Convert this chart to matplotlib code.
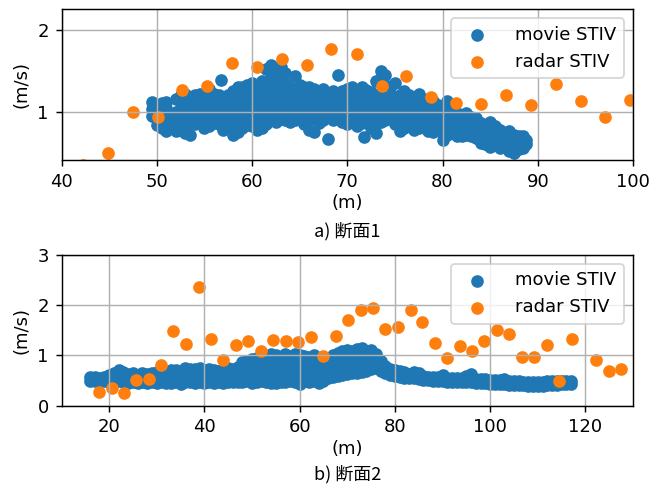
import matplotlib
matplotlib.use("Agg")
import matplotlib.pyplot as plt

# ---------------- data: section 1 ----------------
radar1_x = [42.3, 44.9, 47.5, 50.1, 52.7, 55.3, 57.9, 60.5, 63.2, 65.8, 68.3, 71.0,
            73.6, 76.2, 78.8, 81.4, 84.0, 86.7, 89.3, 91.9, 94.5, 97.1, 99.7]
radar1_y = [0.355, 0.50, 0.99, 0.93, 1.26, 1.31, 1.60, 1.55, 1.64, 1.57, 1.76, 1.71,
            1.31, 1.43, 1.18, 1.11, 1.09, 1.20, 1.08, 1.34, 1.13, 0.93, 1.14]

movie1_cols = [
    (49.5, [0.95, 1.03, 1.12]),
    (50.0, [0.84, 0.92, 1.00, 1.08]),
    (50.5, [0.80, 0.88, 0.98, 1.06, 1.10]),
    (51.0, [0.77, 0.86, 0.95, 1.04, 1.12]),
    (51.5, [0.80, 0.90, 0.97]),
    (52.0, [0.76, 0.84, 0.93, 1.00, 1.16]),
    (52.5, [0.78, 0.88, 0.95, 1.05, 1.20]),
    (53.0, [0.74, 0.82, 0.90, 1.00, 1.08, 1.22]),
    (53.5, [0.72, 0.86, 0.95, 1.06, 1.18]),
    (54.0, [0.85, 0.92, 1.00, 1.10, 1.20]),
    (54.5, [0.88, 0.96, 1.05, 1.15, 1.22]),
    (55.0, [0.80, 0.90, 0.98, 1.08, 1.18]),
    (55.5, [0.82, 0.92, 1.02, 1.12, 1.28]),
    (56.0, [0.86, 0.95, 1.05, 1.16, 1.22]),
    (56.5, [0.85, 0.93, 1.00, 1.10, 1.20]),
    (56.7, [1.39]),
    (57.0, [0.78, 0.88, 0.98, 1.06, 1.15]),
    (57.5, [0.90, 1.00, 1.08, 1.20]),
    (58.0, [0.72, 0.82, 0.95, 1.05, 1.15, 1.25]),
    (58.5, [0.75, 0.86, 0.96, 1.06, 1.18, 1.30]),
    (59.0, [0.80, 0.90, 1.00, 1.10, 1.22, 1.30]),
    (59.5, [0.84, 0.95, 1.05, 1.15, 1.25, 1.33]),
    (60.0, [0.82, 0.92, 1.02, 1.12, 1.20, 1.35]),
    (60.5, [0.78, 0.88, 1.00, 1.10, 1.25]),
    (61.0, [0.80, 0.92, 1.02, 1.15, 1.30, 1.38]),
    (61.5, [0.85, 0.97, 1.08, 1.20, 1.30, 1.52]),
    (62.0, [0.90, 1.00, 1.10, 1.22, 1.35, 1.47, 1.57]),
    (62.5, [0.88, 0.98, 1.08, 1.20, 1.32, 1.42]),
    (63.0, [0.95, 1.05, 1.15, 1.25, 1.38, 1.50, 1.55]),
    (63.5, [0.90, 1.00, 1.12, 1.25, 1.35, 1.47]),
    (64.0, [0.88, 0.98, 1.10, 1.20, 1.30]),
    (64.5, [0.90, 1.02, 1.12, 1.24, 1.43]),
    (65.0, [0.92, 1.04, 1.14, 1.25, 1.33]),
    (65.5, [0.85, 0.96, 1.06, 1.18, 1.30]),
    (66.0, [0.78, 0.90, 1.00, 1.10, 1.22, 1.30]),
    (66.5, [0.75, 0.95, 1.05, 1.15, 1.28]),
    (67.0, [0.86, 0.98, 1.08, 1.20, 1.25]),
    (67.5, [0.90, 1.00, 1.12, 1.22, 1.28]),
    (68.0, [0.67, 0.95, 1.05, 1.15, 1.22]),
    (68.5, [0.90, 1.00, 1.10, 1.20, 1.25]),
    (69.0, [0.92, 1.02, 1.12, 1.22, 1.45]),
    (69.5, [0.88, 0.98, 1.08, 1.18, 1.25]),
    (70.0, [0.85, 0.95, 1.05, 1.15, 1.28]),
    (70.5, [0.90, 1.00, 1.10, 1.20, 1.30]),
    (71.0, [0.82, 0.93, 1.03, 1.13, 1.25]),
    (71.5, [0.86, 0.97, 1.08, 1.20, 1.30]),
    (71.8, [0.69]),
    (72.0, [0.88, 0.98, 1.08, 1.18, 1.27]),
    (72.5, [0.80, 0.92, 1.02, 1.12, 1.24]),
    (73.0, [0.74, 0.85, 0.97, 1.07, 1.20, 1.38]),
    (73.5, [0.88, 0.98, 1.10, 1.22, 1.40, 1.50]),
    (74.0, [0.90, 1.00, 1.10, 1.20, 1.32, 1.45]),
    (74.5, [0.92, 1.02, 1.12, 1.22, 1.30]),
    (75.0, [0.85, 0.95, 1.05, 1.15, 1.35]),
    (75.5, [0.76, 0.88, 0.98, 1.08, 1.20]),
    (76.0, [0.80, 0.90, 1.00, 1.10, 1.25]),
    (76.5, [0.82, 0.92, 1.02, 1.12, 1.20]),
    (77.0, [0.78, 0.88, 0.98, 1.08, 1.18]),
    (77.5, [0.80, 0.90, 1.00, 1.10, 1.22]),
    (78.0, [0.82, 0.92, 1.02, 1.12]),
    (78.5, [0.76, 0.86, 0.96, 1.06, 1.16]),
    (79.0, [0.75, 0.85, 0.95, 1.05, 1.13]),
    (79.5, [0.78, 0.88, 0.98, 1.08]),
    (80.0, [0.65, 0.80, 0.90, 1.00, 1.06]),
    (80.5, [0.72, 0.82, 0.92, 1.02, 1.13]),
    (81.0, [0.74, 0.84, 0.94, 1.04]),
    (81.5, [0.70, 0.80, 0.90, 0.98]),
    (82.0, [0.70, 0.80, 0.88, 0.96]),
    (82.5, [0.72, 0.82, 0.90, 0.98]),
    (83.0, [0.70, 0.78, 0.86, 0.94]),
    (83.5, [0.68, 0.76, 0.85, 0.92]),
    (84.0, [0.62, 0.70, 0.78, 0.86]),
    (84.5, [0.60, 0.68, 0.76, 0.84]),
    (85.0, [0.57, 0.65, 0.73, 0.82, 0.88]),
    (85.5, [0.60, 0.68, 0.76, 0.83]),
    (86.0, [0.56, 0.64, 0.72, 0.78]),
    (86.5, [0.58, 0.66, 0.74]),
    (87.0, [0.52, 0.60, 0.68, 0.76]),
    (87.5, [0.50, 0.58, 0.66, 0.72]),
    (88.0, [0.55, 0.63, 0.70]),
    (88.5, [0.56, 0.64, 0.70]),
    (88.8, [0.60, 0.66]),
]

# ---------------- data: section 2 ----------------
radar2_x = [17.8, 20.5, 23.1, 25.7, 28.3, 30.9, 33.5, 36.2, 38.8, 41.4, 44.0, 46.6,
            49.2, 51.9, 54.5, 57.1, 59.7, 62.3, 64.9, 67.6, 70.2, 72.8, 75.4, 78.0,
            80.6, 83.3, 85.8, 88.4, 91.0, 93.6, 96.2, 98.8, 101.4, 104.0, 106.6,
            109.2, 111.9, 114.5, 117.1, 122.3, 124.9, 127.5]
radar2_y = [0.27, 0.36, 0.25, 0.51, 0.54, 0.82, 1.49, 1.22, 2.36, 1.32, 0.90, 1.21,
            1.29, 1.09, 1.31, 1.29, 1.26, 1.36, 0.99, 1.39, 1.70, 1.91, 1.95, 1.53,
            1.56, 1.91, 1.67, 1.24, 0.95, 1.19, 1.09, 1.29, 1.51, 1.43, 0.96,
            0.97, 1.21, 0.50, 1.33, 0.90, 0.69, 0.74]

movie2_cols = [
    (16, [0.50, 0.57]), (17, [0.50, 0.58]), (18, [0.49, 0.56]), (19, [0.50, 0.58]),
    (20, [0.48, 0.56, 0.62]), (21, [0.50, 0.60, 0.65]), (22, [0.50, 0.60, 0.72]),
    (23, [0.47, 0.57, 0.68]), (24, [0.46, 0.55, 0.63]), (25, [0.48, 0.57, 0.65]),
    (26, [0.45, 0.54, 0.62]), (27, [0.47, 0.56, 0.66]), (28, [0.46, 0.56, 0.64]),
    (29, [0.47, 0.57, 0.66]), (30, [0.46, 0.55, 0.64, 0.68]), (31, [0.47, 0.56, 0.65]),
    (32, [0.46, 0.56, 0.67]), (33, [0.45, 0.55, 0.65, 0.72]), (34, [0.47, 0.57, 0.67, 0.72]),
    (35, [0.44, 0.54, 0.64, 0.70]), (36, [0.47, 0.57, 0.67, 0.76]), (37, [0.48, 0.58, 0.68, 0.74]),
    (38, [0.46, 0.56, 0.66, 0.74]), (39, [0.47, 0.57, 0.67, 0.75]), (40, [0.46, 0.56, 0.66, 0.72]),
    (41, [0.47, 0.57, 0.67, 0.74]), (42, [0.45, 0.55, 0.65, 0.72]), (43, [0.47, 0.57, 0.67, 0.70]),
    (44, [0.46, 0.56, 0.66, 0.74]), (45, [0.48, 0.58, 0.68, 0.76]), (46, [0.47, 0.57, 0.67, 0.73]),
    (47, [0.48, 0.58, 0.68, 0.78]), (48, [0.47, 0.57, 0.67, 0.77, 0.86]),
    (49, [0.50, 0.60, 0.70, 0.80, 0.88]), (50, [0.46, 0.56, 0.66, 0.76, 0.86, 0.92]),
    (51, [0.48, 0.58, 0.68, 0.78, 0.88, 0.95]), (52, [0.49, 0.59, 0.69, 0.79, 0.89, 0.97]),
    (53, [0.47, 0.57, 0.67, 0.77, 0.87, 0.96]), (54, [0.46, 0.56, 0.66, 0.76, 0.86, 0.96, 1.02]),
    (55, [0.45, 0.55, 0.65, 0.75, 0.85, 0.95, 1.00]), (56, [0.48, 0.58, 0.68, 0.78, 0.88, 0.97]),
    (57, [0.47, 0.57, 0.67, 0.77, 0.87, 0.97, 1.02]), (58, [0.50, 0.60, 0.70, 0.80, 0.90, 0.98]),
    (59, [0.48, 0.58, 0.68, 0.78, 0.88, 0.98, 1.02]), (60, [0.44, 0.54, 0.64, 0.74, 0.84, 0.94, 1.00]),
    (61, [0.50, 0.60, 0.70, 0.80, 0.90, 0.98]), (62, [0.48, 0.58, 0.68, 0.78, 0.88, 0.97]),
    (63, [0.50, 0.60, 0.70, 0.80, 0.90, 1.00]), (64, [0.45, 0.55, 0.65, 0.75, 0.85, 0.95]),
    (65, [0.50, 0.60, 0.70, 0.80, 0.90, 0.97]), (66, [0.55, 0.65, 0.75, 0.85, 0.95]),
    (67, [0.58, 0.68, 0.78, 0.88, 0.98, 1.00]), (68, [0.60, 0.70, 0.80, 0.90, 1.00, 1.05]),
    (69, [0.62, 0.72, 0.82, 0.92, 1.02, 1.08]), (70, [0.63, 0.73, 0.83, 0.93, 1.03, 1.10]),
    (71, [0.65, 0.75, 0.85, 0.95, 1.05, 1.08]), (72, [0.66, 0.76, 0.86, 0.96, 1.06, 1.12]),
    (73, [0.68, 0.78, 0.88, 0.98, 1.08, 1.14]), (74, [0.70, 0.80, 0.90, 1.00, 1.08]),
    (75, [0.74, 0.84, 0.94, 1.04, 1.10]), (76, [0.76, 0.86, 0.96, 1.02]),
    (77, [0.70, 0.80, 0.88]), (78, [0.66, 0.74, 0.80]), (79, [0.62, 0.68, 0.74]),
    (80, [0.60, 0.66, 0.72]), (81, [0.58, 0.65, 0.70]), (82, [0.56, 0.63, 0.68]),
    (83, [0.56, 0.64]), (84, [0.55, 0.62, 0.67]), (85, [0.53, 0.60, 0.65]),
    (86, [0.52, 0.60]), (87, [0.52, 0.58]), (88, [0.50, 0.58]), (89, [0.50, 0.57]),
    (90, [0.49, 0.57, 0.62]), (91, [0.48, 0.56]), (92, [0.48, 0.56]), (93, [0.47, 0.55]),
    (94, [0.48, 0.56]), (95, [0.47, 0.55, 0.60]), (96, [0.48, 0.56, 0.64]),
    (97, [0.46, 0.54]), (98, [0.46, 0.54]), (99, [0.45, 0.53]), (100, [0.44, 0.52]),
    (101, [0.44, 0.51]), (102, [0.43, 0.51]), (103, [0.43, 0.50, 0.53]), (104, [0.42, 0.50]),
    (105, [0.42, 0.50]), (106, [0.41, 0.49]), (107, [0.41, 0.48]), (108, [0.40, 0.47]),
    (109, [0.40, 0.47]), (110, [0.39, 0.47]), (111, [0.40, 0.48]), (112, [0.41, 0.49]),
    (113, [0.42, 0.50]), (114, [0.42, 0.50]), (115, [0.43, 0.50]), (116, [0.43, 0.50]),
    (117, [0.44, 0.49]),
]

labels = ["movie STIV", "radar STIV"]
captions = ["a) 断面1", "b) 断面2"]
xlabel = "(m)"
ylabel = "(m/s)"


def flatten(cols):
    xs, ys = [], []
    for x, yl in cols:
        for y in yl:
            xs.append(x)
            ys.append(y)
    return xs, ys


m1x, m1y = flatten(movie1_cols)
m2x, m2y = flatten(movie2_cols)

plt.rcParams['font.family'] = ['DejaVu Sans', 'Noto Sans CJK JP']

DPI = 130
fig = plt.figure(figsize=(652 / DPI, 484 / DPI), dpi=DPI)

W, H = 652, 484
def rect(l, r, t, b):
    return [l / W, 1 - b / H, (r - l) / W, (b - t) / H]

ax1 = fig.add_axes(rect(61.5, 633, 9.3, 160))
ax2 = fig.add_axes(rect(61.5, 633, 255, 405.7))

for ax, mx, my, rx, ry in [(ax1, m1x, m1y, radar1_x, radar1_y),
                           (ax2, m2x, m2y, radar2_x, radar2_y)]:
    ax.scatter(mx, my, color='C0', label=labels[0])
    ax.scatter(rx, ry, color='C1', label=labels[1])
    ax.grid(True)
    ax.legend(loc='upper right', handletextpad=1.15)
    ax.set_xlabel(xlabel, labelpad=2)
    ax.set_ylabel(ylabel)

ax1.set_xlim(40, 100)
ax1.set_ylim(0.41, 2.25)
ax1.set_xticks([40, 50, 60, 70, 80, 90, 100])
ax1.set_yticks([1, 2])

ax2.set_xlim(10, 130)
ax2.set_ylim(0, 3)
ax2.set_xticks([20, 40, 60, 80, 100, 120])
ax2.set_yticks([0, 1, 2, 3])

cx = (61.5 + 633) / 2 / W
fig.text(cx, 1 - 231 / H, captions[0], ha='center', va='center',
         family=['Noto Sans CJK JP', 'DejaVu Sans'], fontsize=10)
fig.text(cx, 1 - 474 / H, captions[1], ha='center', va='center',
         family=['Noto Sans CJK JP', 'DejaVu Sans'], fontsize=10)

fig.savefig("out.png", dpi=DPI)
